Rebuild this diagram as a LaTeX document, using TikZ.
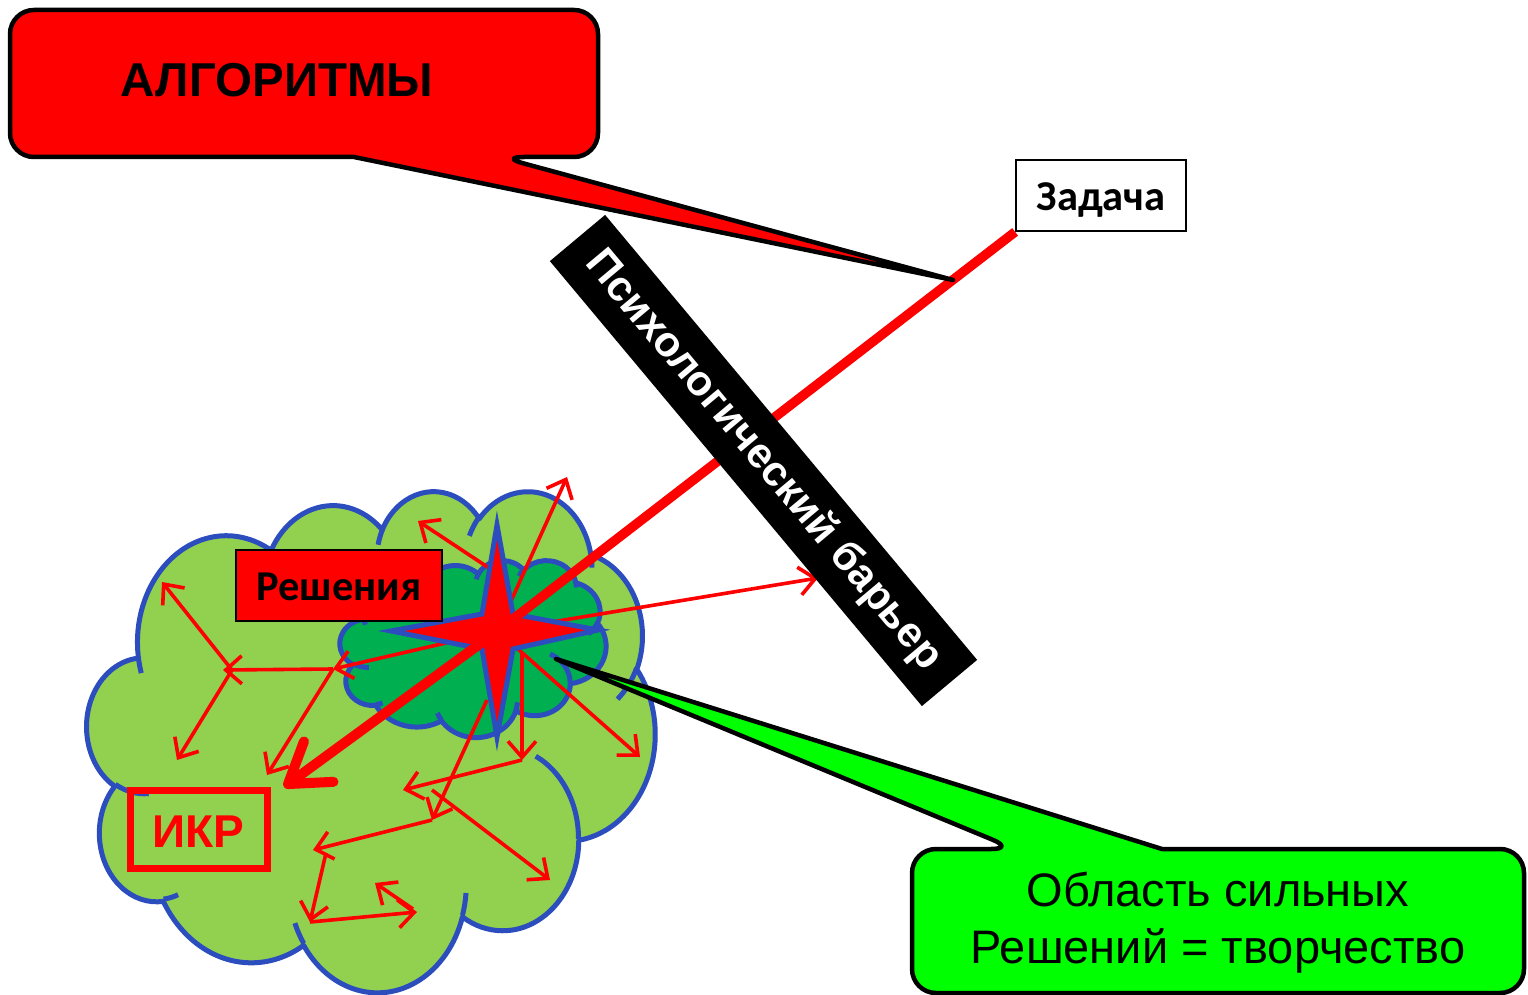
\documentclass[tikz,border=0pt]{standalone}
\usepackage{fontspec}
\setmainfont{Liberation Sans}
\newfontfamily\calibri{Carlito}
\usetikzlibrary{arrows.meta}

\definecolor{lobegreen}{HTML}{92D050}
\definecolor{coregreen}{HTML}{00B050}
\definecolor{callgreen}{HTML}{00FF00}
\definecolor{rim}{RGB}{44,77,190}

% One elliptic arc of a cloud outline: x radius, y radius, start angle, sweep.
% The angles are the visible (polar) ones; they are turned into
% the parametric angles that TikZ's arc wants.
\newcommand\lobe[4]{%
  \pgfextra{%
    \pgfmathsetmacro\lobeS{atan2((#1)*sin(#3),(#2)*cos(#3))}%
    \pgfmathsetmacro\lobeE{atan2((#1)*sin((#3)+(#4)),(#2)*cos((#3)+(#4)))}%
    \pgfmathsetmacro\lobeD{mod(\lobeE-\lobeS+720,360)}%
  }%
  arc[start angle=\lobeS, delta angle=\lobeD, x radius=#1, y radius=#2]%
}

% cloud outline in a 432 x 432 box, y pointing down
\newcommand\cloudpath{%
  (39.00,143.70)
  \lobe{67.53}{91.90}{-190.4875}{123.7805}
  \lobe{53.33}{72.67}{-144.1024}{89.9452}
  \lobe{43.65}{59.45}{-145.8079}{99.7230}
  \lobe{48.57}{65.95}{-130.9861}{117.2417}
  \lobe{53.33}{72.73}{-78.7089}{109.0269}
  \lobe{67.75}{92.20}{-46.2673}{130.2690}
  \lobe{57.85}{78.67}{0.6250}{114.0333}
  \lobe{67.52}{92.15}{22.4516}{115.1726}
  \lobe{77.20}{105.43}{66.2426}{75.7110}
  \lobe{43.60}{59.18}{-274.9421}{146.7356}
  \lobe{43.45}{59.45}{-246.8285}{152.5189}
  -- cycle}

% short inner arcs where the lobes overlap
\newcommand\cloudcreases{%
  (46.93,261.77) \lobe{43.45}{59.45}{86.7420}{26.4295}
  (69.28,348.99) \lobe{43.60}{59.18}{73.6105}{11.4475}
  (164.78,390.90) \lobe{67.52}{92.15}{137.6242}{14.0811}
  (288.27,347.51) \lobe{67.52}{92.15}{6.4533}{15.9984}
  (341.29,229.54) \lobe{57.85}{78.67}{-70.2924}{70.9174}
  (417.98,153.54) \lobe{53.33}{72.73}{30.3180}{27.7515}
  (383.24,54.26) \lobe{48.57}{65.95}{-13.7443}{14.8589}
  (290.78,39.52) \lobe{48.57}{65.95}{-149.1815}{18.1954}
  (221.41,47.20) \lobe{43.65}{59.45}{-163.4943}{17.6864}
  (140.00,51.92) \lobe{67.53}{91.90}{-66.7070}{12.3194}
  (41.27,157.89) \lobe{67.53}{91.90}{157.6544}{11.8582}}

\begin{document}
\begin{tikzpicture}[x=1pt, y=-1pt,
  flow/.style={draw=red, line width=3.6pt, -{Straight Barb[length=16pt,width=28pt]}},
  cloud line/.style={draw=rim, line width=5pt, line join=round},
  callout/.style={draw=black, line width=4.5pt, line join=round},
  boxtext/.style={inner sep=0pt, text depth=0pt}]
\useasboundingbox (0,0) rectangle (1528,995);

% the two clouds
\begin{scope}[shift={(87,490)}, x=1.3148pt, y=-1.1597pt]
  \filldraw[cloud line, fill=lobegreen] \cloudpath;
  \draw[cloud line] \cloudcreases;
\end{scope}
\begin{scope}[shift={(340,560)}, x=0.6157pt, y=-0.4097pt]
  \filldraw[cloud line, fill=coregreen] \cloudpath;
  \draw[cloud line] \cloudcreases;
\end{scope}

% points of the search network
\coordinate (c) at (497.5,631);
\coordinate (n1) at (489,568);   \coordinate (t1) at (418,521);
\coordinate (t2) at (567,477);
\coordinate (t3) at (818,578);
\coordinate (t4) at (640,757);
\coordinate (v5) at (522,652);   \coordinate (t5) at (522,760);
\coordinate (t6) at (403,790);
\coordinate (s7) at (487,700);   \coordinate (t7) at (432,820);
\coordinate (t8) at (313,850);
\coordinate (s9) at (432,790);   \coordinate (t9) at (550,880);
\coordinate (s10) at (326,853);  \coordinate (t10) at (310,922);
\coordinate (t11) at (417,912);
\coordinate (s12) at (413,909);  \coordinate (t12) at (375,883);
\coordinate (t13) at (333,669);  \coordinate (t13b) at (223,670);
\coordinate (j) at (232,670);
\coordinate (t14) at (162,582);  \coordinate (t15) at (177,760);
\coordinate (t16) at (267,775);
\coordinate (goal) at (284,787);
\coordinate (core) at (556,659);
\coordinate (algtip) at (953,280);

% thin search arrows
\draw[flow] (n1) -- (t1);
\draw[flow] (c) -- (t2);
\draw[flow] (c) -- (t3);
\draw[flow] (c) -- (t4);
\draw[flow] (v5) -- (t5);
\draw[flow] (t5) -- (t6);
\draw[flow] (s7) -- (t7);
\draw[flow] (t7) -- (t8);
\draw[flow] (s9) -- (t9);
\draw[flow] (s10) -- (t10);
\draw[flow] (t10) -- (t11);
\draw[flow] (s12) -- (t12);
\draw[flow] (c) -- (t13);
\draw[flow] (t13) -- (t13b);
\draw[flow] (j) -- (t14);
\draw[flow] (j) -- (t15);
\draw[flow] (t13) -- (t16);

% four-pointed star
\filldraw[draw=rim, fill=red, line width=5pt]
  (497,525) -- (513,614) -- (598,630) -- (513,649) -- (497,737)
  -- (482,649) -- (391,631) -- (482,614) -- cycle;

% task box and the straight way through the barrier
\node[draw=black, fill=white, line width=1.8pt, minimum width=170pt,
      minimum height=71pt, boxtext, text height=31pt,
      font=\calibri\bfseries\fontsize{42.5}{50}\selectfont]
  (task) at (1101,195.5) {Задача};
\draw[red, line width=9.5pt] (task.south west) -- (c);
\draw[red, line width=10pt, line cap=round,
      -{Straight Barb[length=38pt,width=50pt,round]}] (c) -- (goal);

% psychological barrier
\node[fill=black, text=white, rotate=-50.1, minimum width=580pt,
      minimum height=72pt, inner sep=0pt,
      font=\bfseries\fontsize{42.5}{50}\selectfont]
  (barrier) at (763.5,460.5) {Психологический барьер};

% labels inside the cloud
\node[draw=black, fill=red, line width=2.4pt, minimum width=206pt,
      minimum height=71pt, boxtext, text height=29pt,
      font=\calibri\bfseries\fontsize{42.5}{50}\selectfont]
  (sol) at (339,585.5) {Решения};
\node[draw=red, text=red, line width=7pt, minimum width=137pt,
      minimum height=78pt, boxtext, text height=36pt,
      font=\bfseries\fontsize{46}{55}\selectfont]
  (ikr) at (198.5,829) {ИКР};

% callouts
\filldraw[callout, fill=red] (354,157) [rounded corners=24pt] -- (10,157)
  -- (10,10) -- (598,10) -- (598,157) -- (500,157) [sharp corners]
  -- (algtip) -- cycle;
\node[anchor=base, font=\bfseries\fontsize{47.5}{57}\selectfont]
  (alg) at (277,97) {АЛГОРИТМЫ};

\filldraw[callout, fill=callgreen] (1162,849) [rounded corners=24pt]
  -- (1524,849) -- (1524,993) -- (912,993) -- (912,849) -- (1015,849)
  [sharp corners] -- (core) -- cycle;
\node[anchor=base, font=\fontsize{47}{56}\selectfont]
  (area1) at (1218,906) {Область сильных};
\node[anchor=base, font=\fontsize{47}{56}\selectfont]
  (area2) at (1218,963) {Решений = творчество};
\end{tikzpicture}
\end{document}
